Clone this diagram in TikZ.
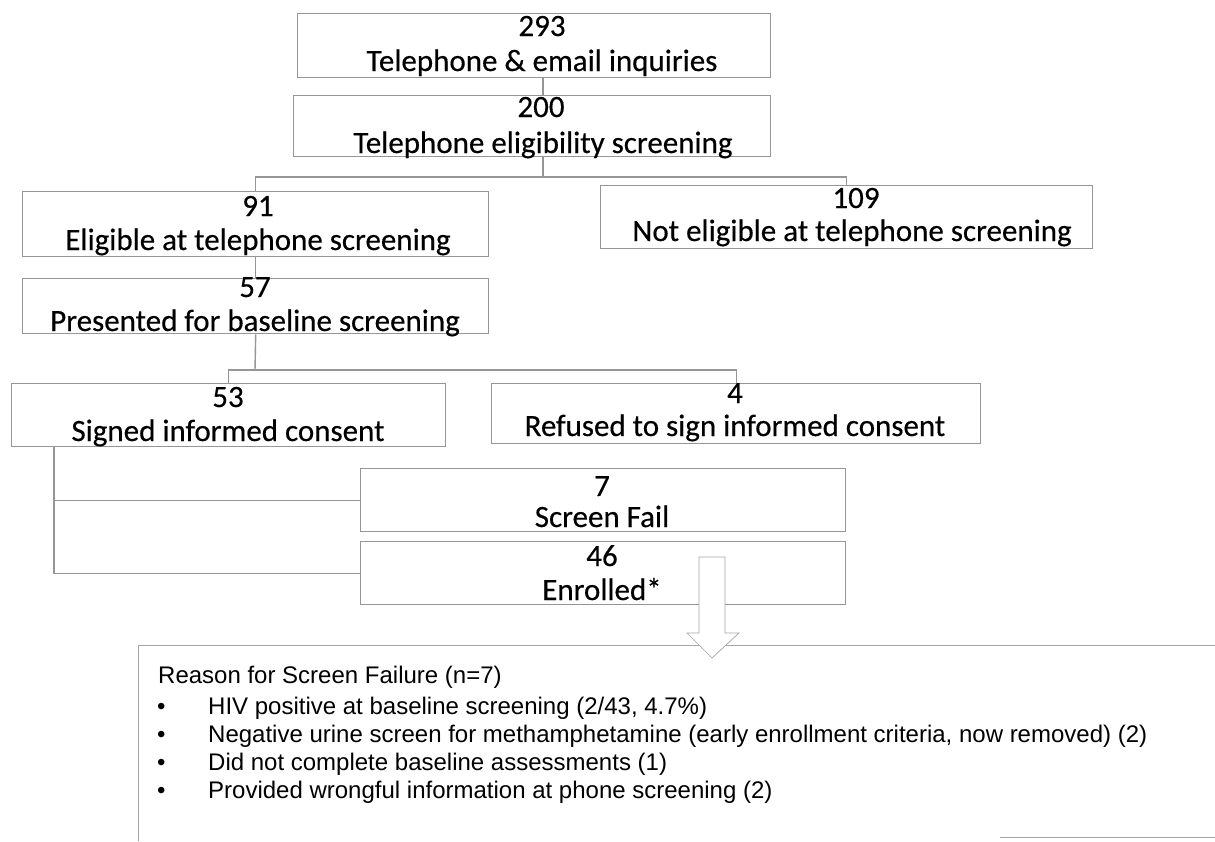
\documentclass[tikz,border=0pt]{standalone}
\usepackage{fontspec}
\setmainfont{Carlito}
\newfontfamily\boxfont[FakeBold=0.35]{Carlito}
\newfontfamily\notefont{Liberation Sans}
\definecolor{bordergray}{RGB}{150,150,150}
\definecolor{thingray}{RGB}{165,165,165}
\begin{document}
\begin{tikzpicture}[x=1pt,y=-1pt,
  box/.style={draw=bordergray, line width=1.4pt, fill=white, inner sep=0pt, anchor=north west},
  conn/.style={draw=bordergray, line width=1.4pt},
  lbl/.style={font=\boxfont\fontsize{31}{33}\selectfont, inner sep=0pt, anchor=base},
  note/.style={font=\notefont\fontsize{24}{28}\selectfont, inner sep=0pt, anchor=base west},
  blockarrow/.style={draw=thingray, line width=0.7pt, fill=white},
  frame/.style={draw=thingray, line width=0.8pt}]
\useasboundingbox (0,0) rectangle (1215,841);
\fill[white] (0,0) rectangle (1215,841);

% boxes
\node[box, minimum width=473pt, minimum height=64pt] (A) at (297,13) {};
\node[box, minimum width=477pt, minimum height=61pt] (B) at (293,95) {};
\node[box, minimum width=466pt, minimum height=65pt] (C) at (22,191) {};
\node[box, minimum width=492pt, minimum height=63pt] (D) at (600,185) {};
\node[box, minimum width=466pt, minimum height=55pt] (E) at (22,278) {};
\node[box, minimum width=434pt, minimum height=63pt] (F) at (11,383) {};
\node[box, minimum width=489pt, minimum height=60pt] (G) at (491,383) {};
\node[box, minimum width=485pt, minimum height=63pt] (H) at (360,468) {};
\node[box, minimum width=485pt, minimum height=63pt] (I) at (360,541) {};

% labels
\node[lbl] (A1) at (542,36) {293};
\node[lbl] (A2) at (542,71) {Telephone \& email inquiries};
\node[lbl] (B1) at (541,117) {200};
\node[lbl] (B2) at (543,153) {Telephone eligibility screening};
\node[lbl] (C1) at (258,216) {91};
\node[lbl] (C2) at (258,250) {Eligible at telephone screening};
\node[lbl] (D1) at (856,208) {109};
\node[lbl] (D2) at (852,241) {Not eligible at telephone screening};
\node[lbl] (E1) at (255,297) {57};
\node[lbl] (E2) at (255,331) {Presented for baseline screening};
\node[lbl] (F1) at (228,407) {53};
\node[lbl] (F2) at (228,441) {Signed informed consent};
\node[lbl] (G1) at (735,403) {4};
\node[lbl] (G2) at (735,436) {Refused to sign informed consent};
\node[lbl] (H1) at (602,496) {7};
\node[lbl] (H2) at (602,527) {Screen Fail};
\node[lbl] (I1) at (602,566) {46};
\node[lbl] (I2) at (602,600) {Enrolled*};

% connectors
\coordinate (cx) at (543,0);
\draw[conn] (A.south -| cx) -- (B.north -| cx);
\coordinate (j1) at (543,177);
\draw[conn] (B.south -| j1) -- (j1);
\draw[conn] (C.north) |- (j1) -| (D.north);
\draw[conn] (C.south) -- (E.north);
\coordinate (j2) at (255,370);
\draw[conn] (E.south) -- (j2);
\draw[conn] (F.north) |- (j2) -| (G.north);
\coordinate (tx) at (54,0);
\coordinate (hb) at (tx |- H.west);
\draw[conn] (F.south -| tx) |- (I.west);
\draw[conn] (hb) -- (H.west);

% reason frame
\coordinate (fTL) at (138,645);
\coordinate (fTR) at (1215,645);
\coordinate (fBL) at (138,841);
\coordinate (fB1) at (1000,837);
\coordinate (fB2) at (1215,837);
\draw[frame] (fTR) -- (fTL) -- (fBL);
\draw[frame] (fB1) -- (fB2);

% block arrow
\draw[blockarrow] (699,557) -- (725,557) -- (725,633) -- (739,633) -- (712,658)
  -- (687,633) -- (699,633) -- cycle;

% note text
\node[note] (R0) at (158,683) {Reason for Screen Failure (n=7)};
\node[note] (b1) at (157,714) {\textbullet};
\node[note] (R1) at (208,714) {HIV positive at baseline screening (2/43, 4.7\%)};
\node[note] (b2) at (157,742) {\textbullet};
\node[note] (R2) at (208,742) {Negative urine screen for methamphetamine (early enrollment criteria, now removed) (2)};
\node[note] (b3) at (157,770) {\textbullet};
\node[note] (R3) at (208,770) {Did not complete baseline assessments (1)};
\node[note] (b4) at (157,798) {\textbullet};
\node[note] (R4) at (208,798) {Provided wrongful information at phone screening (2)};
\end{tikzpicture}
\end{document}
